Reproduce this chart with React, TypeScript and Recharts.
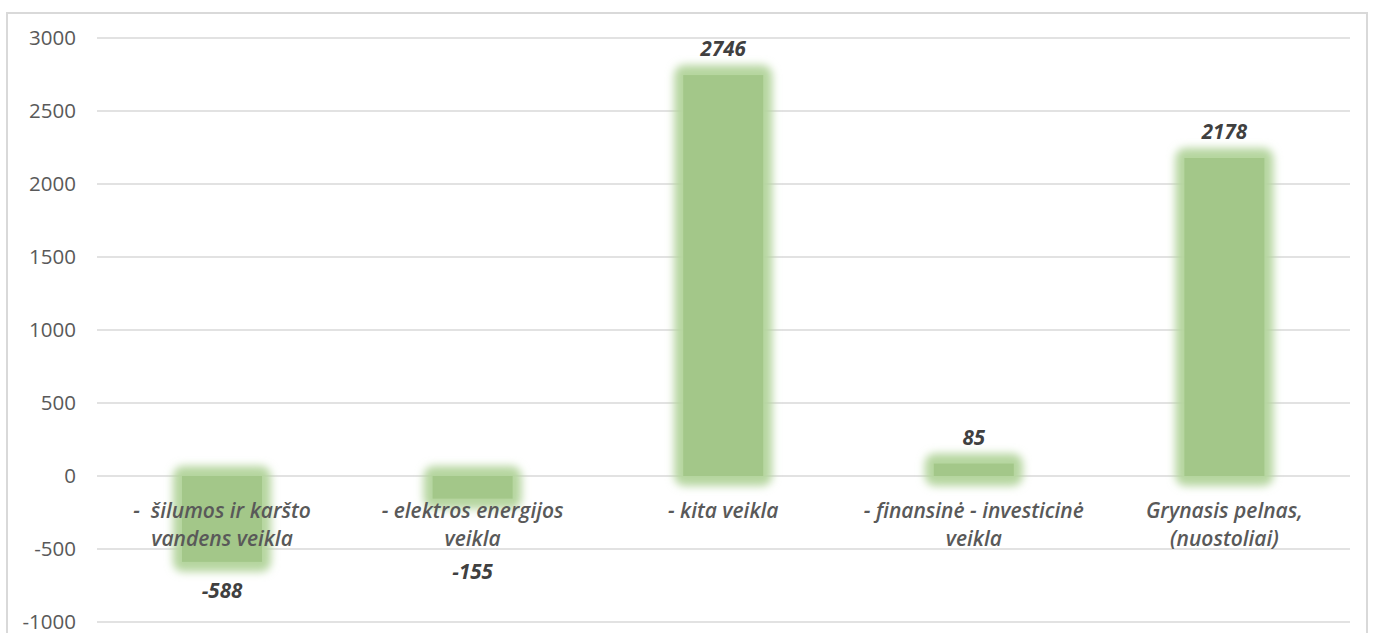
import { BarChart, Bar, XAxis, YAxis, CartesianGrid, LabelList } from "recharts";

const categories = [
  "-\u00a0 šilumos ir karšto\nvandens veikla",
  "- elektros energijos\nveikla",
  "- kita veikla",
  "- finansinė - investicinė\nveikla",
  "Grynasis pelnas,\n(nuostoliai)",
];
const values = [-588, -155, 2746, 85, 2178];
const yTicks = [-1000, -500, 0, 500, 1000, 1500, 2000, 2500, 3000];

const data = categories.map((name, i) => ({ name, value: values[i] }));

const FONT = "'Open Sans', Lato, sans-serif";

// soft-edged green bar
function GlowBar(props: any) {
  const { x, y, width, height } = props;
  const top = Math.min(y, y + height);
  const h = Math.abs(height);
  return (
    <g>
      <rect x={x - 9} y={top - 10} width={width + 18} height={h + 20} rx={10}
        fill="#b5d59f" filter="url(#soft)" />
      <rect x={x} y={top} width={width} height={h} fill="#a3c789" />
    </g>
  );
}

function ValueLabel(props: any) {
  const { x, y, width, height, index } = props;
  const v = values[index];
  const top = Math.min(y, y + height);
  const bottom = Math.max(y, y + height);
  // negative labels are kept clear of the category text under the zero line
  const ty = v >= 0 ? top - 27 : Math.max(bottom + 28, top + 95);
  return (
    <text x={x + width / 2} y={ty} textAnchor="middle" dominantBaseline="central"
      fontFamily={FONT} fontSize={20.5} fontWeight={700} fontStyle="italic" fill="#404040">
      {v}
    </text>
  );
}

function CategoryLabel(props: any) {
  const { x, y, width, height, index } = props;
  const v = values[index];
  // category labels sit just under the zero line
  const zero = v >= 0 ? Math.max(y, y + height) : Math.min(y, y + height);
  const lines = categories[index].split("\n");
  return (
    <text x={x + width / 2} y={zero + 34} textAnchor="middle"
      fontFamily={FONT} fontSize={21} fontWeight={600} fontStyle="italic" fill="#595959">
      {lines.map((l, i) => (
        <tspan key={i} x={x + width / 2} dy={i === 0 ? 0 : 28} dominantBaseline="central">
          {l}
        </tspan>
      ))}
    </text>
  );
}

export default function App() {
  return (
    <div style={{ position: "absolute", left: 0, top: 0, width: 1373, height: 633, background: "#fff", overflow: "hidden" }}>
      <div style={{ position: "absolute", left: 6, top: 12, width: 1358, height: 640, border: "2px solid #d9d9d9" }} />
      <div style={{ position: "absolute", left: 0, top: 0 }}>
        <BarChart width={1373} height={633} data={data}
          margin={{ top: 38, right: 23, bottom: 11, left: 0 }}>
          <defs>
            <filter id="soft" x="-30%" y="-30%" width="160%" height="160%">
              <feGaussianBlur stdDeviation="4" />
            </filter>
          </defs>
          <CartesianGrid vertical={false} stroke="#d9d9d9" strokeWidth={1.5} />
          <XAxis dataKey="name" height={0} tick={false} axisLine={false} tickLine={false} />
          <YAxis domain={[-1000, 3000]} ticks={yTicks} interval={0} width={97} axisLine={false} tickLine={false}
            tickSize={0} tickMargin={21}
            tick={{ fontFamily: FONT, fontSize: 20.5, fill: "#595959" }} />
          <Bar dataKey="value" barSize={80} shape={<GlowBar />} isAnimationActive={false}>
            <LabelList dataKey="name" content={<CategoryLabel />} />
            <LabelList dataKey="value" content={<ValueLabel />} />
          </Bar>
        </BarChart>
      </div>
    </div>
  );
}
